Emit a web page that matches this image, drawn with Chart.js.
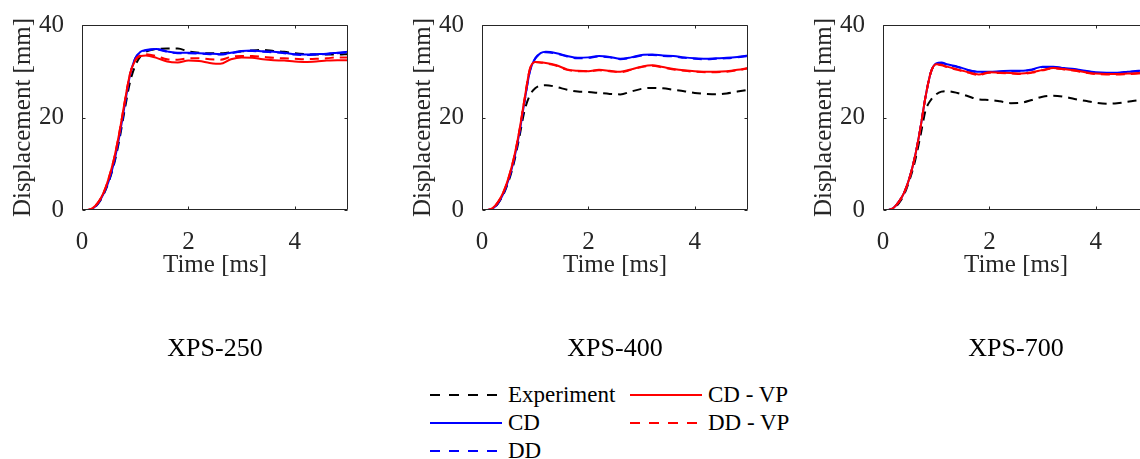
<!DOCTYPE html>
<html>
<head>
<meta charset="utf-8">
<script src="https://cdn.jsdelivr.net/npm/chart.js@4"></script>
<style>
  html, body { margin: 0; padding: 0; background: #fff; overflow: hidden; }
  body { width: 1140px; height: 459px; position: relative; }
  canvas { position: absolute; top: 0; }
  .leg { position: absolute; font-family: "Liberation Serif", serif; font-size: 23px; color: #000;
         height: 28px; line-height: 28px; white-space: nowrap; }
  .leg svg { position: absolute; left: 0; top: 0; }
  .leg span { position: absolute; left: 78px; top: 0; }
</style>
</head>
<body>
<canvas id="c250" width="360" height="365" style="left:0px"></canvas>
<canvas id="c400" width="360" height="365" style="left:400px"></canvas>
<canvas id="c700" width="360" height="365" style="left:801px"></canvas>

<div class="leg" style="left:430px;top:381px"><svg width="72" height="28"><line x1="0" y1="14" x2="72" y2="14" stroke="#000" stroke-width="2" stroke-dasharray="10 9"/></svg><span>Experiment</span></div>
<div class="leg" style="left:430px;top:409px"><svg width="72" height="28"><line x1="0" y1="14" x2="72" y2="14" stroke="#0000ff" stroke-width="2"/></svg><span>CD</span></div>
<div class="leg" style="left:430px;top:437px"><svg width="72" height="28"><line x1="0" y1="14" x2="72" y2="14" stroke="#0000ff" stroke-width="2" stroke-dasharray="10 9"/></svg><span>DD</span></div>
<div class="leg" style="left:630px;top:381px"><svg width="72" height="28"><line x1="0" y1="14" x2="72" y2="14" stroke="#ff0000" stroke-width="2"/></svg><span>CD - VP</span></div>
<div class="leg" style="left:630px;top:409px"><svg width="72" height="28"><line x1="0" y1="14" x2="72" y2="14" stroke="#ff0000" stroke-width="2" stroke-dasharray="10 9"/></svg><span>DD - VP</span></div>

<script>
const time = [0, 0.1, 0.2, 0.3, 0.4, 0.5, 0.6, 0.7, 0.8, 0.9, 1.0, 1.1, 1.2, 1.4, 1.6, 1.8,
              2.0, 2.2, 2.4, 2.6, 2.8, 3.0, 3.2, 3.4, 3.6, 3.8, 4.0, 4.2, 4.4, 4.6, 4.8, 5.0];
const xTicks = [0, 2, 4];
const yTicks = [0, 20, 40];

// XPS-250
const exp250  = [0, 0, 0.3, 1.3, 3.2, 6.0, 9.8, 15.0, 21.5, 27.5, 31.2, 33.2, 34.2, 34.8, 34.9, 34.9,
                 34.3, 34.0, 33.9, 33.9, 34.1, 34.3, 34.5, 34.6, 34.4, 34.2, 33.9, 33.7, 33.6, 33.6, 33.6, 33.7];
const cd250   = [0, 0, 0.3, 1.4, 3.4, 6.2, 10.2, 15.8, 22.5, 29.0, 32.8, 34.2, 34.6, 34.8, 34.3, 34.0,
                 34.0, 33.9, 33.8, 33.7, 34.0, 34.4, 34.5, 34.3, 34.2, 34.0, 33.7, 33.6, 33.7, 33.8, 34.0, 34.2];
const dd250   = [0, 0, 0.3, 1.4, 3.4, 6.2, 10.2, 15.8, 22.5, 29.0, 32.8, 34.1, 34.5, 34.7, 34.2, 33.9,
                 33.9, 33.8, 33.7, 33.6, 33.9, 34.3, 34.4, 34.2, 34.1, 33.9, 33.6, 33.5, 33.6, 33.7, 33.9, 34.1];
const cdvp250 = [0, 0, 0.4, 1.6, 3.6, 6.8, 11.0, 16.6, 23.2, 29.3, 32.3, 33.3, 33.4, 32.9, 32.1, 31.9,
                 32.3, 32.2, 31.8, 31.6, 32.6, 33.0, 32.9, 32.6, 32.4, 32.3, 32.1, 32.0, 32.1, 32.3, 32.4, 32.4];
const ddvp250 = [0, 0, 0.4, 1.6, 3.6, 6.8, 11.0, 16.6, 23.2, 29.3, 32.4, 33.5, 33.7, 33.3, 32.6, 32.5,
                 32.8, 32.8, 32.6, 32.5, 33.1, 33.3, 33.3, 33.1, 32.9, 32.8, 32.7, 32.6, 32.7, 32.8, 33.0, 33.0];

// XPS-400
const exp400  = [0, 0, 0.3, 1.4, 3.3, 6.2, 10.2, 15.6, 21.5, 24.8, 26.3, 26.9, 27.0, 26.6, 26.0, 25.6,
                 25.5, 25.3, 25.1, 25.0, 25.6, 26.2, 26.4, 26.3, 26.0, 25.7, 25.3, 25.1, 25.0, 25.2, 25.6, 26.0];
const cd400   = [0, 0, 0.3, 1.5, 3.5, 6.6, 10.8, 16.5, 23.5, 30.0, 32.8, 33.9, 34.2, 33.9, 33.3, 32.9,
                 33.0, 33.3, 33.1, 32.7, 33.0, 33.5, 33.6, 33.4, 33.3, 33.0, 32.8, 32.7, 32.8, 32.9, 33.1, 33.4];
const dd400   = [0, 0, 0.3, 1.5, 3.5, 6.6, 10.8, 16.5, 23.5, 30.0, 32.7, 33.8, 34.1, 33.8, 33.2, 32.8,
                 32.9, 33.2, 33.0, 32.6, 32.9, 33.4, 33.5, 33.3, 33.2, 32.9, 32.7, 32.6, 32.7, 32.8, 33.0, 33.3];
const cdvp400 = [0, 0, 0.4, 1.7, 3.8, 7.0, 11.3, 17.0, 24.0, 30.5, 32.0, 31.9, 31.8, 31.3, 30.4, 30.1,
                 30.0, 30.3, 30.1, 29.9, 30.4, 31.0, 31.3, 30.9, 30.5, 30.2, 30.0, 29.9, 29.9, 30.0, 30.3, 30.7];
const ddvp400 = [0, 0, 0.4, 1.7, 3.8, 7.0, 11.3, 17.0, 24.0, 30.5, 32.0, 31.9, 31.7, 31.2, 30.3, 30.0,
                 30.0, 30.2, 30.0, 29.8, 30.3, 30.9, 31.2, 30.8, 30.4, 30.1, 29.9, 29.8, 29.8, 29.9, 30.2, 30.6];

// XPS-700
const exp700  = [0, 0, 0.4, 1.5, 3.4, 6.5, 10.5, 15.8, 21.5, 23.8, 25.0, 25.6, 25.7, 25.3, 24.6, 23.9,
                 23.8, 23.5, 23.1, 23.2, 23.8, 24.5, 24.7, 24.5, 24.0, 23.6, 23.2, 23.0, 23.1, 23.4, 23.7, 23.9];
const cd700   = [0, 0, 0.5, 1.8, 3.8, 7.0, 11.5, 17.5, 24.5, 29.8, 31.7, 31.9, 31.5, 31.0, 30.3, 29.9,
                 29.9, 30.0, 30.1, 30.1, 30.4, 31.0, 31.0, 30.7, 30.5, 30.1, 29.8, 29.7, 29.7, 29.9, 30.1, 30.2];
const dd700   = [0, 0, 0.5, 1.8, 3.8, 7.0, 11.5, 17.5, 24.5, 29.8, 31.6, 31.8, 31.4, 30.9, 30.2, 29.8,
                 29.8, 29.9, 30.0, 30.0, 30.3, 30.9, 30.9, 30.6, 30.4, 30.0, 29.7, 29.6, 29.6, 29.8, 30.0, 30.1];
const cdvp700 = [0, 0, 0.5, 1.8, 3.8, 7.0, 11.5, 17.5, 24.5, 29.8, 31.5, 31.4, 31.0, 30.4, 29.8, 29.3,
                 29.8, 29.7, 29.6, 29.5, 29.8, 30.3, 30.7, 30.5, 30.2, 29.8, 29.5, 29.4, 29.4, 29.5, 29.6, 29.8];
const ddvp700 = [0, 0, 0.5, 1.8, 3.8, 7.0, 11.5, 17.5, 24.5, 29.8, 31.4, 31.3, 30.9, 30.3, 29.7, 29.2,
                 29.7, 29.6, 29.5, 29.4, 29.7, 30.2, 30.6, 30.4, 30.1, 29.7, 29.4, 29.3, 29.3, 29.4, 29.5, 29.7];

const FONT = '"Liberation Serif", serif';
const AXIS = '#262626';

function pts(ys) {
  return time.map((t, i) => ({x: t, y: ys[i]}));
}

// box round the axes with small inward ticks, like matlab
const framePlugin = {
  id: 'frame',
  afterDatasetsDraw(chart) {
    const {ctx, chartArea: a, scales} = chart;
    const l = Math.round(a.left) + 0.5, r = Math.round(a.right) - 0.5;
    const t = Math.round(a.top) + 0.5, b = Math.round(a.bottom) - 0.5;
    ctx.save();
    ctx.strokeStyle = AXIS;
    ctx.lineWidth = 1;
    ctx.beginPath();
    ctx.rect(l, t, r - l, b - t);
    xTicks.forEach(v => {
      const px = Math.round(scales.x.getPixelForValue(v)) + 0.5;
      ctx.moveTo(px, b); ctx.lineTo(px, b - 3);
      ctx.moveTo(px, t); ctx.lineTo(px, t + 3);
    });
    yTicks.forEach(v => {
      const py = Math.round(scales.y.getPixelForValue(v)) + 0.5;
      ctx.moveTo(l, py); ctx.lineTo(l + 3, py);
      ctx.moveTo(r, py); ctx.lineTo(r - 3, py);
    });
    ctx.stroke();
    ctx.restore();
  }
};

function makeChart(id, title, exp, cd, dd, cdvp, ddvp) {
  const line = (label, data, color, dashed, order) => ({
    label: label,
    data: pts(data),
    borderColor: color,
    borderWidth: 2,
    borderDash: dashed ? [9, 6] : [],
    pointRadius: 0,
    cubicInterpolationMode: 'monotone',
    order: order
  });

  new Chart(document.getElementById(id), {
    type: 'line',
    data: {
      datasets: [
        line('Experiment', exp, '#000000', true, 5),
        line('CD', cd, '#0000ff', false, 4),
        line('DD', dd, '#0000ff', true, 3),
        line('CD - VP', cdvp, '#ff0000', false, 2),
        line('DD - VP', ddvp, '#ff0000', true, 1)
      ]
    },
    options: {
      responsive: false,
      animation: false,
      layout: {padding: {top: 23, right: 12, left: 0, bottom: 0}},
      scales: {
        x: {
          type: 'linear',
          min: 0, max: 5,
          grid: {display: false},
          border: {display: false},
          afterBuildTicks: s => { s.ticks = xTicks.map(v => ({value: v})); },
          afterFit: s => { s.height = 80; },
          ticks: {color: AXIS, padding: 9, maxRotation: 0, font: {family: FONT, size: 25}},
          title: {display: true, text: 'Time [ms]', color: AXIS,
                  padding: {top: 0, bottom: 10}, font: {family: FONT, size: 25}}
        },
        y: {
          min: 0, max: 40,
          grid: {display: false},
          border: {display: false},
          afterBuildTicks: s => { s.ticks = yTicks.map(v => ({value: v})); },
          afterFit: s => { s.width = 82; },
          ticks: {color: AXIS, padding: 10, font: {family: FONT, size: 25}},
          title: {display: true, text: 'Displacement [mm]', color: AXIS,
                  padding: {top: 8, bottom: 0}, font: {family: FONT, size: 25}}
        }
      },
      plugins: {
        legend: {display: false},
        tooltip: {enabled: false},
        title: {
          display: true,
          text: title,
          position: 'bottom',
          fullSize: false,
          color: '#000',
          padding: {top: 43.8, bottom: 0},
          font: {family: FONT, size: 26, weight: 'normal'}
        }
      }
    },
    plugins: [framePlugin]
  });
}

makeChart('c250', 'XPS-250', exp250, cd250, dd250, cdvp250, ddvp250);
makeChart('c400', 'XPS-400', exp400, cd400, dd400, cdvp400, ddvp400);
makeChart('c700', 'XPS-700', exp700, cd700, dd700, cdvp700, ddvp700);
</script>
</body>
</html>
